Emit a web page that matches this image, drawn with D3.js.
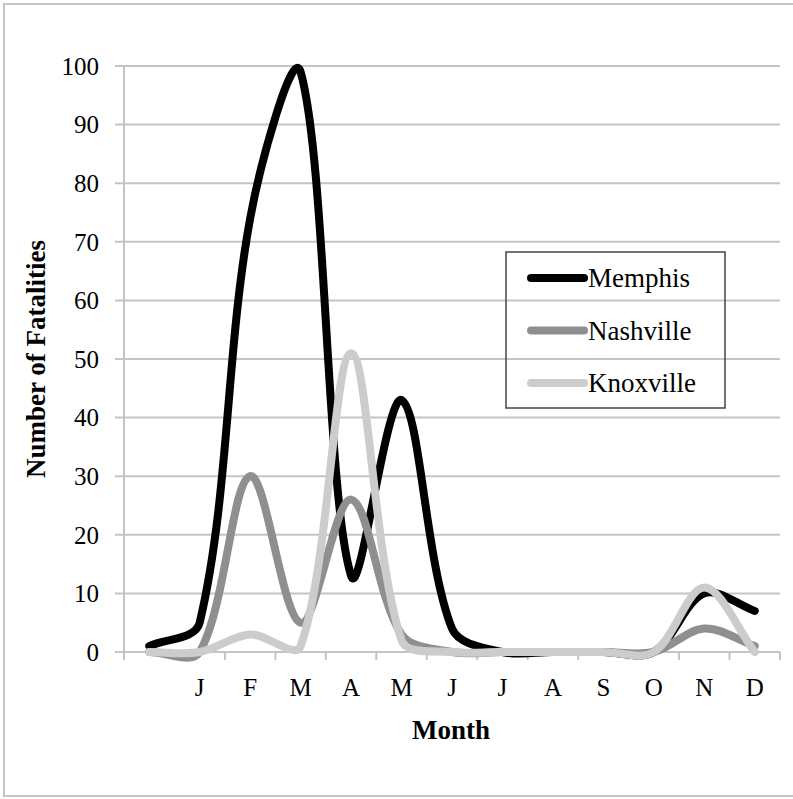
<!DOCTYPE html>
<html>
<head>
<meta charset="utf-8">
<script src="https://cdn.jsdelivr.net/npm/d3@7"></script>
<style>
  body { margin: 0; background: #fff; }
  text { font-family: "Liberation Serif", "Times New Roman", serif; fill: #000; }
</style>
</head>
<body>
<script>
// first slot has no label (Excel left an empty category before January)
const months = ["", "J", "F", "M", "A", "M", "J", "J", "A", "S", "O", "N", "D"];
const memphis   = [1, 5, 74, 99, 13, 43, 4, 0, 0, 0, 0, 10, 7];
const nashville = [0, 0, 30, 5, 26, 3, 0, 0, 0, 0, 0, 4, 1];
const knoxville = [0, 0, 3, 1, 51, 2, 0, 0, 0, 0, 0, 11, 0];
const yTicks = [0, 10, 20, 30, 40, 50, 60, 70, 80, 90, 100];

const series = [
  { name: "Memphis", values: memphis, color: "#000000" },
  { name: "Nashville", values: nashville, color: "#8f8f8f" },
  { name: "Knoxville", values: knoxville, color: "#cccccc" }
];

const W = 793, H = 799;
const plotLeft = 124, plotRight = 780, plotTop = 66, plotBottom = 652;

// bezier smoothing with tangents weighted by segment length (like Excel's "smoothed line")
function excelSmooth(context) {
  let pts;
  const s = 1 / 3;
  const dist = (a, b) => Math.hypot(b[0] - a[0], b[1] - a[1]);
  return {
    areaStart() {}, areaEnd() {},
    lineStart() { pts = []; },
    point(px, py) { pts.push([+px, +py]); },
    lineEnd() {
      const n = pts.length;
      if (!n) return;
      context.moveTo(pts[0][0], pts[0][1]);
      for (let i = 0; i < n - 1; i++) {
        const p0 = pts[Math.max(i - 1, 0)], p1 = pts[i], p2 = pts[i + 1], p3 = pts[Math.min(i + 2, n - 1)];
        const d01 = dist(p0, p1), d12 = dist(p1, p2), d23 = dist(p2, p3);
        const f1 = (d01 + d12) ? d12 / (d01 + d12) * s : 0;
        const f2 = (d12 + d23) ? d12 / (d12 + d23) * s : 0;
        context.bezierCurveTo(
          p1[0] + (p2[0] - p0[0]) * f1, p1[1] + (p2[1] - p0[1]) * f1,
          p2[0] - (p3[0] - p1[0]) * f2, p2[1] - (p3[1] - p1[1]) * f2,
          p2[0], p2[1]);
      }
    }
  };
}

const svg = d3.select("body").append("svg")
  .attr("width", W)
  .attr("height", H);

// outer frame
svg.append("rect")
  .attr("x", 4).attr("y", 4)
  .attr("width", W + 10).attr("height", H - 7)
  .attr("fill", "none")
  .attr("stroke", "#c4c4c4")
  .attr("stroke-width", 2);

const x = d3.scaleBand()
  .domain(d3.range(months.length))
  .range([plotLeft, plotRight])
  .padding(0);

const y = d3.scaleLinear()
  .domain([0, 100])
  .range([plotBottom, plotTop]);

// gridlines
svg.append("g")
  .selectAll("line")
  .data(yTicks)
  .join("line")
  .attr("x1", plotLeft - 9)
  .attr("x2", plotRight)
  .attr("y1", d => y(d))
  .attr("y2", d => y(d))
  .attr("stroke", "#c4c4c4")
  .attr("stroke-width", 2);

// y axis line
svg.append("line")
  .attr("x1", plotLeft).attr("x2", plotLeft)
  .attr("y1", plotTop).attr("y2", plotBottom)
  .attr("stroke", "#c4c4c4")
  .attr("stroke-width", 2);

// y tick labels
svg.append("g")
  .selectAll("text")
  .data(yTicks)
  .join("text")
  .attr("x", 99)
  .attr("y", d => y(d))
  .attr("dy", "0.35em")
  .attr("text-anchor", "end")
  .style("font-size", "25px")
  .text(d => d);

// x axis ticks at band edges
const edges = d3.range(months.length + 1).map(i => plotLeft + i * x.bandwidth());
svg.append("g")
  .selectAll("line")
  .data(edges)
  .join("line")
  .attr("x1", d => d).attr("x2", d => d)
  .attr("y1", plotBottom).attr("y2", plotBottom + 8)
  .attr("stroke", "#c4c4c4")
  .attr("stroke-width", 2);

// month labels
svg.append("g")
  .selectAll("text")
  .data(months)
  .join("text")
  .attr("x", (d, i) => x(i) + x.bandwidth() / 2)
  .attr("y", 696)
  .attr("text-anchor", "middle")
  .style("font-size", "25px")
  .text(d => d);

// axis titles
svg.append("text")
  .attr("x", 451)
  .attr("y", 739)
  .attr("text-anchor", "middle")
  .style("font-size", "27px")
  .style("font-weight", "bold")
  .text("Month");

svg.append("text")
  .attr("transform", "translate(45, 359) rotate(-90)")
  .attr("text-anchor", "middle")
  .style("font-size", "27px")
  .style("font-weight", "bold")
  .text("Number of Fatalities");

const line = d3.line()
  .x((d, i) => x(i) + x.bandwidth() / 2)
  .y(d => y(d))
  .curve(excelSmooth);

svg.append("g")
  .selectAll("path")
  .data(series)
  .join("path")
  .attr("d", d => line(d.values))
  .attr("fill", "none")
  .attr("stroke", d => d.color)
  .attr("stroke-width", 8)
  .attr("stroke-linecap", "round")
  .attr("stroke-linejoin", "round");

// legend
const legend = svg.append("g");
legend.append("rect")
  .attr("x", 506).attr("y", 252)
  .attr("width", 219).attr("height", 156)
  .attr("fill", "none")
  .attr("stroke", "#444")
  .attr("stroke-width", 1.5);

const items = legend.selectAll("g")
  .data(series)
  .join("g")
  .attr("transform", (d, i) => `translate(0, ${278 + i * 52.5})`);

items.append("line")
  .attr("x1", 531).attr("x2", 584)
  .attr("stroke", d => d.color)
  .attr("stroke-width", 8)
  .attr("stroke-linecap", "round");

items.append("text")
  .attr("x", 588)
  .attr("dy", "0.35em")
  .style("font-size", "27px")
  .text(d => d.name);
</script>
</body>
</html>
